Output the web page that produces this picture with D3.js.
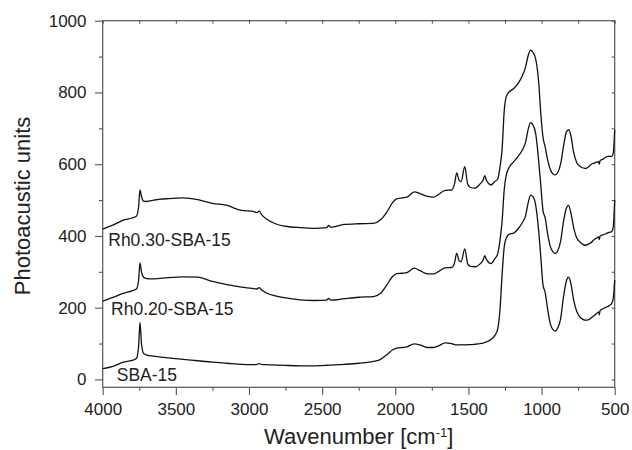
<!DOCTYPE html>
<head>
  <meta charset="utf-8">
  <script src="https://cdn.jsdelivr.net/npm/d3@7"></script>
  <style>
    body {
      margin: 0;
      background-color: #fff;
    }
    svg text {
      font-family: "Liberation Sans", Arial, sans-serif;
      fill: #222;
    }
    .axis path { display: none; }
    .axis line { stroke: #555; stroke-width: 1.1px; }
    .axis text { font-size: 17px; fill: #222; }
    .spectrum {
      fill: none;
      stroke: #111;
      stroke-width: 1.3px;
    }
  </style>
</head>

<body>
  <script>
    // Wavenumber grid (cm-1) shared by the three spectra
    var wavenumber = [
      4000, 3920, 3860, 3800, 3770, 3755, 3745, 3735, 3720, 3700,
      3650, 3550, 3450, 3350, 3250, 3150, 3050, 2980, 2945, 2930,
      2915, 2880, 2820, 2750, 2650, 2550, 2470, 2455, 2440, 2350,
      2250, 2150, 2100, 2060, 2020, 1990, 1950, 1920, 1870, 1830,
      1780, 1740, 1700, 1660, 1615, 1595, 1580, 1565, 1550, 1525,
      1505, 1485, 1455, 1420, 1400, 1388, 1375, 1345, 1320, 1300,
      1285, 1270, 1255, 1240, 1220, 1190, 1160, 1130, 1110, 1090,
      1075, 1060, 1040, 1020, 1005, 990, 975, 960, 940, 920,
      905, 890, 870, 850, 830, 815, 800, 780, 760, 740,
      720, 700, 680, 660, 640, 620, 610, 605, 600, 580,
      560, 540, 520, 510, 500
    ];

    var sba15 = [
      30, 38, 48, 53, 58, 90, 159, 100, 72, 68,
      65, 60, 56, 52, 48, 45, 42, 41, 42, 44,
      42, 41, 40, 39, 38, 38, 39, 40, 40, 42,
      45, 50, 56, 68, 82, 87, 89, 91, 99, 96,
      89, 89, 94, 102, 100, 97, 96, 96, 97, 96,
      97, 97, 98, 100, 101, 103, 105, 111, 122, 140,
      190, 290, 370, 395, 405, 408, 420, 438, 455, 495,
      514, 510, 485, 415, 340, 263, 242, 200, 155, 138,
      135, 143, 168, 230, 275, 285, 268, 220, 190, 175,
      168, 165, 166, 172, 178, 185, 188, 180, 192, 197,
      201, 205, 212, 225, 277
    ];

    var rh020 = [
      218, 230, 240, 247, 252, 275, 325, 300, 285, 281,
      280, 284, 286, 285, 273, 264, 257, 254, 252, 256,
      250, 241, 233, 227, 222, 220, 221, 226, 221, 225,
      229, 231, 240, 262, 286, 295, 296, 298, 310, 303,
      294, 294, 302, 311, 312, 325, 352, 332, 328, 364,
      322, 315, 314, 322, 332, 345, 333, 323, 336, 350,
      385, 440, 530, 572, 592, 607, 622, 640, 660, 700,
      716, 710, 685, 610, 540, 470, 450, 410, 370, 355,
      351, 358, 385, 440, 478, 485, 465, 422, 395, 384,
      377, 374, 377, 382, 390, 395, 397, 390, 400, 403,
      406, 410, 412, 425, 500
    ];

    var rh030 = [
      419, 432, 444, 450, 455, 480, 528, 510, 497, 496,
      500, 504, 506, 501, 491, 485, 471, 469, 465, 469,
      460, 447, 434, 427, 423, 421, 423, 429, 424, 432,
      434, 435, 445, 465, 492, 503, 506, 508, 523, 518,
      510, 508, 517, 527, 528, 545, 576, 556, 551, 593,
      545, 535, 533, 545, 555, 568, 553, 542, 552, 558,
      590, 640, 750, 790, 802, 811, 825, 848, 870, 905,
      918, 912, 893, 830, 740, 675, 648, 615, 585, 572,
      570, 576, 600, 650, 690, 696, 680, 632, 605, 595,
      590, 588, 592, 600, 603, 606, 607, 600, 610, 614,
      620, 622, 622, 630, 696
    ];

    // Curve labels, anchored in data units (wavenumber, photoacoustic units)
    var labelNames = ["Rh0.30-SBA-15", "Rh0.20-SBA-15", "SBA-15"];
    var labelWn = [3962, 3943, 3904];
    var labelVal = [373, 179, -4];

    var xMajor = [4000, 3500, 3000, 2500, 2000, 1500, 1000, 500];
    var xMinor = [3750, 3250, 2750, 2250, 1750, 1250, 750];
    var yMajor = [0, 200, 400, 600, 800, 1000];
    var yMinor = [100, 300, 500, 700, 900];

    // Layout
    var width = 632,
        height = 450;
    var margin = { top: 20.7, right: 17.3, bottom: 62.7, left: 102.7 };
    var plotW = width - margin.left - margin.right,
        plotH = height - margin.top - margin.bottom;

    var svg = d3.select("body").append("svg")
      .attr("width", width)
      .attr("height", height);

    var g = svg.append("g")
      .attr("transform", "translate(" + margin.left + "," + margin.top + ")");

    var x = d3.scaleLinear().domain([4000, 500]).range([0, plotW]);
    var y = d3.scaleLinear().domain([-22, 1000]).range([plotH, 0]);

    // Axes
    g.append("g").attr("class", "axis")
      .call(d3.axisLeft(y).tickValues(yMajor).tickSize(7.7).tickPadding(8.5).tickFormat(d3.format("d")));
    g.append("g").attr("class", "axis")
      .call(d3.axisLeft(y).tickValues(yMinor).tickSize(3.7).tickFormat(""));
    g.append("g").attr("class", "axis")
      .attr("transform", "translate(0," + plotH + ")")
      .call(d3.axisBottom(x).tickValues(xMajor).tickSize(7.7).tickPadding(7.6).tickFormat(d3.format("d")));
    g.append("g").attr("class", "axis")
      .attr("transform", "translate(0," + plotH + ")")
      .call(d3.axisBottom(x).tickValues(xMinor).tickSize(3.5).tickFormat(""));
    g.append("g").attr("class", "axis")
      .call(d3.axisTop(x).tickValues(xMajor.concat(xMinor)).tickSize(-3).tickFormat(""));
    g.append("g").attr("class", "axis")
      .attr("transform", "translate(" + plotW + ",0)")
      .call(d3.axisRight(y).tickValues(yMajor.concat(yMinor)).tickSize(-3).tickFormat(""));

    // Frame
    g.append("rect")
      .attr("width", plotW)
      .attr("height", plotH)
      .attr("fill", "none")
      .attr("stroke", "#555")
      .attr("stroke-width", 1.2);

    // Spectra
    var line = d3.line()
      .x(function(d, i) { return x(wavenumber[i]); })
      .y(function(d) { return y(d); })
      .curve(d3.curveMonotoneX);

    [sba15, rh020, rh030].forEach(function(s) {
      g.append("path")
        .datum(s)
        .attr("class", "spectrum")
        .attr("d", line);
    });

    // Labels
    labelNames.forEach(function(name, i) {
      g.append("text")
        .attr("x", x(labelWn[i]))
        .attr("y", y(labelVal[i]))
        .style("font-size", "17.5px")
        .text(name);
    });

    // Axis titles
    svg.append("text")
      .attr("transform", "translate(30," + (margin.top + plotH / 2 + 2) + ") rotate(-90)")
      .attr("text-anchor", "middle")
      .style("font-size", "22px")
      .text("Photoacustic units");

    var xt = svg.append("text")
      .attr("x", margin.left + plotW / 2)
      .attr("y", 444)
      .attr("text-anchor", "middle")
      .style("font-size", "22px");
    xt.append("tspan").text("Wavenumber [cm");
    xt.append("tspan").attr("dy", -7).style("font-size", "13px").text("-1");
    xt.append("tspan").attr("dy", 7).text("]");
  </script>
</body>
